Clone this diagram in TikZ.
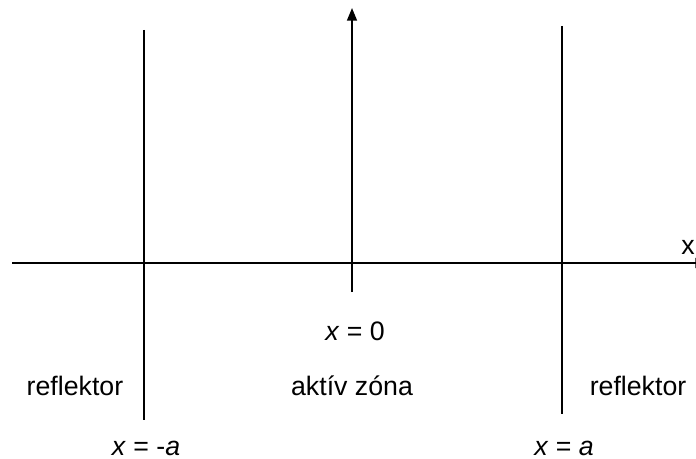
\documentclass[tikz,border=0pt]{standalone}
\usepackage{fontspec}
\setmainfont{Liberation Sans}
\usetikzlibrary{arrows.meta}
\tikzset{
  axisline/.style={line width=1.4pt},
  lbl/.style={anchor=base,inner sep=0pt,font=\fontsize{19}{23}\selectfont}
}
\begin{document}
\begin{tikzpicture}[x=0.025cm,y=-0.025cm]
\useasboundingbox (0,0) rectangle (696,459);
\clip (0,0) rectangle (696,459);
% axes
\coordinate (xl) at (12,263);
\coordinate (xr) at (708,263);
\coordinate (yb) at (352,292);
\coordinate (yt) at (352,8);
\draw[axisline,-{Triangle[width=7pt,length=9pt]}] (xl) -- (xr);
\draw[axisline,-{Triangle[width=7pt,length=9pt]}] (yb) -- (yt);
% boundaries of the core
\coordinate (lt) at (144,30);
\coordinate (lb) at (144,420);
\coordinate (rt) at (562,26);
\coordinate (rb) at (562,414);
\draw[axisline] (lt) -- (lb);
\draw[axisline] (rt) -- (rb);
% labels
\node[lbl] (xlab) at (688,254) {x};
\node[lbl] (x0) at (355,340) {\textit{x} = 0};
\node[lbl] (refl) at (75,395) {reflektor};
\node[lbl] (core) at (352,395) {aktív zóna};
\node[lbl] (refr) at (638,395) {reflektor};
\node[lbl] (xma) at (146,455) {\textit{x} = -\textit{a}};
\node[lbl] (xa) at (564,455) {\textit{x} = \textit{a}};
\end{tikzpicture}
\end{document}
